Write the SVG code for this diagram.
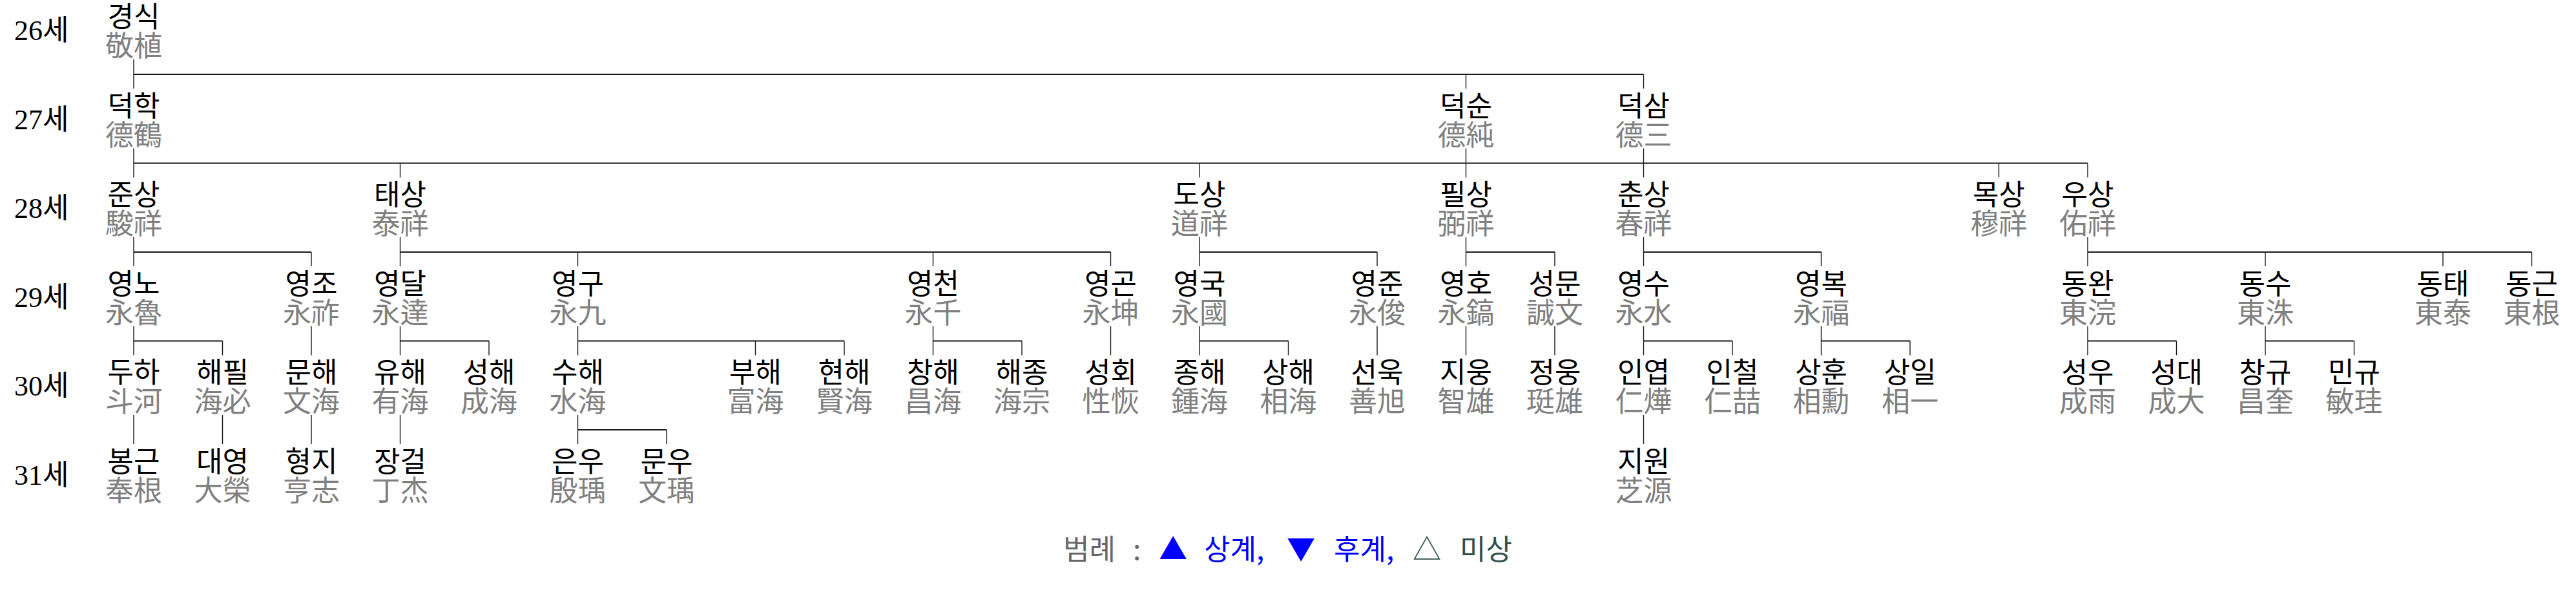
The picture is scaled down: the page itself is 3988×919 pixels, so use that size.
<svg xmlns="http://www.w3.org/2000/svg" width="3988" height="919" viewBox="0 0 3988 919">
<style>
text{font-family:"Liberation Serif","Noto Sans CJK KR",serif;font-size:44px}
.k{fill:#000;text-anchor:middle}
.h{fill:#808080;text-anchor:middle}
.lbl{fill:#000}
.v{stroke:#1a1a1a;stroke-width:1.4;fill:none}
.b{stroke:#1a1a1a;stroke-width:2.2;fill:none}
.lg{font-family:"Noto Sans CJK KR","Liberation Serif",sans-serif}
</style>
<rect width="3988" height="919" fill="#fff"/>
<g id="labels">
<text class="lbl" x="22" y="62">26세</text>
<text class="lbl" x="22" y="199.5">27세</text>
<text class="lbl" x="22" y="337">28세</text>
<text class="lbl" x="22" y="474.5">29세</text>
<text class="lbl" x="22" y="612">30세</text>
<text class="lbl" x="22" y="749.5">31세</text>
</g>
<g id="connectors">
<path class="b" d="M207 115H2544.5 M207 252.5H3232 M207 390H482 M619.5 390H1719.5 M1857 390H2132 M2269.5 390H2407 M2544.5 390H2819.5 M3232 390H3919.5 M207 527.5H344.5 M619.5 527.5H757 M894.5 527.5H1307 M1444.5 527.5H1582 M1857 527.5H1994.5 M2544.5 527.5H2682 M2819.5 527.5H2957 M3232 527.5H3369.5 M3507 527.5H3644.5 M894.5 665H1032"/>
<path class="v" d="M207 92V137 M2269.5 115V137 M2544.5 115V137
M207 229.5V274.5 M619.5 252.5V274.5 M1857 252.5V274.5 M2269.5 229.5V274.5 M2544.5 229.5V274.5 M3094.5 252.5V274.5 M3232 252.5V274.5
M207 367V412 M482 390V412 M619.5 367V412 M894.5 390V412 M1444.5 390V412 M1719.5 390V412 M1857 367V412 M2132 390V412 M2269.5 367V412 M2407 390V412 M2544.5 367V412 M2819.5 390V412 M3232 367V412 M3507 390V412 M3782 390V412 M3919.5 390V412
M207 504.5V549.5 M344.5 527.5V549.5 M482 504.5V549.5 M619.5 504.5V549.5 M757 527.5V549.5 M894.5 504.5V549.5 M1169.5 527.5V549.5 M1307 527.5V549.5 M1444.5 504.5V549.5 M1582 527.5V549.5 M1719.5 504.5V549.5 M1857 504.5V549.5 M1994.5 527.5V549.5 M2132 504.5V549.5 M2269.5 504.5V549.5 M2407 504.5V549.5 M2544.5 504.5V549.5 M2682 527.5V549.5 M2819.5 504.5V549.5 M2957 527.5V549.5 M3232 504.5V549.5 M3369.5 527.5V549.5 M3507 504.5V549.5 M3644.5 527.5V549.5
M207 642V687 M344.5 642V687 M482 642V687 M619.5 642V687 M894.5 642V687 M1032 665V687 M2544.5 642V687"/>
</g>
<g id="n-gyeongsik"><text class="k" x="207" y="42">경식</text><text class="h" x="207" y="87">敬植</text></g>
<g id="n-deokhak"><text class="k" x="207" y="179.5">덕학</text><text class="h" x="207" y="224.5">德鶴</text></g>
<g id="n-deoksun"><text class="k" x="2269.5" y="179.5">덕순</text><text class="h" x="2269.5" y="224.5">德純</text></g>
<g id="n-deoksam"><text class="k" x="2544.5" y="179.5">덕삼</text><text class="h" x="2544.5" y="224.5">德三</text></g>
<g id="n-junsang"><text class="k" x="207" y="317">준상</text><text class="h" x="207" y="362">駿祥</text></g>
<g id="n-taesang"><text class="k" x="619.5" y="317">태상</text><text class="h" x="619.5" y="362">泰祥</text></g>
<g id="n-dosang"><text class="k" x="1857" y="317">도상</text><text class="h" x="1857" y="362">道祥</text></g>
<g id="n-pilsang"><text class="k" x="2269.5" y="317">필상</text><text class="h" x="2269.5" y="362">弼祥</text></g>
<g id="n-chunsang"><text class="k" x="2544.5" y="317">춘상</text><text class="h" x="2544.5" y="362">春祥</text></g>
<g id="n-moksang"><text class="k" x="3094.5" y="317">목상</text><text class="h" x="3094.5" y="362">穆祥</text></g>
<g id="n-usang"><text class="k" x="3232" y="317">우상</text><text class="h" x="3232" y="362">佑祥</text></g>
<g id="n-yeongno"><text class="k" x="207" y="454.5">영노</text><text class="h" x="207" y="499.5">永魯</text></g>
<g id="n-yeongjo"><text class="k" x="482" y="454.5">영조</text><text class="h" x="482" y="499.5">永祚</text></g>
<g id="n-yeongdal"><text class="k" x="619.5" y="454.5">영달</text><text class="h" x="619.5" y="499.5">永達</text></g>
<g id="n-yeonggu"><text class="k" x="894.5" y="454.5">영구</text><text class="h" x="894.5" y="499.5">永九</text></g>
<g id="n-yeongcheon"><text class="k" x="1444.5" y="454.5">영천</text><text class="h" x="1444.5" y="499.5">永千</text></g>
<g id="n-yeonggon"><text class="k" x="1719.5" y="454.5">영곤</text><text class="h" x="1719.5" y="499.5">永坤</text></g>
<g id="n-yeongguk"><text class="k" x="1857" y="454.5">영국</text><text class="h" x="1857" y="499.5">永國</text></g>
<g id="n-yeongjun"><text class="k" x="2132" y="454.5">영준</text><text class="h" x="2132" y="499.5">永俊</text></g>
<g id="n-yeongho"><text class="k" x="2269.5" y="454.5">영호</text><text class="h" x="2269.5" y="499.5">永鎬</text></g>
<g id="n-seongmun"><text class="k" x="2407" y="454.5">성문</text><text class="h" x="2407" y="499.5">誠文</text></g>
<g id="n-yeongsu"><text class="k" x="2544.5" y="454.5">영수</text><text class="h" x="2544.5" y="499.5">永水</text></g>
<g id="n-yeongbok"><text class="k" x="2819.5" y="454.5">영복</text><text class="h" x="2819.5" y="499.5">永福</text></g>
<g id="n-dongwan"><text class="k" x="3232" y="454.5">동완</text><text class="h" x="3232" y="499.5">東浣</text></g>
<g id="n-dongsu"><text class="k" x="3507" y="454.5">동수</text><text class="h" x="3507" y="499.5">東洙</text></g>
<g id="n-dongtae"><text class="k" x="3782" y="454.5">동태</text><text class="h" x="3782" y="499.5">東泰</text></g>
<g id="n-donggeun"><text class="k" x="3919.5" y="454.5">동근</text><text class="h" x="3919.5" y="499.5">東根</text></g>
<g id="n-duha"><text class="k" x="207" y="592">두하</text><text class="h" x="207" y="637">斗河</text></g>
<g id="n-haepil"><text class="k" x="344.5" y="592">해필</text><text class="h" x="344.5" y="637">海必</text></g>
<g id="n-munhae"><text class="k" x="482" y="592">문해</text><text class="h" x="482" y="637">文海</text></g>
<g id="n-yuhae"><text class="k" x="619.5" y="592">유해</text><text class="h" x="619.5" y="637">有海</text></g>
<g id="n-seonghae"><text class="k" x="757" y="592">성해</text><text class="h" x="757" y="637">成海</text></g>
<g id="n-suhae"><text class="k" x="894.5" y="592">수해</text><text class="h" x="894.5" y="637">水海</text></g>
<g id="n-buhae"><text class="k" x="1169.5" y="592">부해</text><text class="h" x="1169.5" y="637">富海</text></g>
<g id="n-hyeonhae"><text class="k" x="1307" y="592">현해</text><text class="h" x="1307" y="637">賢海</text></g>
<g id="n-changhae"><text class="k" x="1444.5" y="592">창해</text><text class="h" x="1444.5" y="637">昌海</text></g>
<g id="n-haejong"><text class="k" x="1582" y="592">해종</text><text class="h" x="1582" y="637">海宗</text></g>
<g id="n-seonghoe"><text class="k" x="1719.5" y="592">성회</text><text class="h" x="1719.5" y="637">性恢</text></g>
<g id="n-jonghae"><text class="k" x="1857" y="592">종해</text><text class="h" x="1857" y="637">鍾海</text></g>
<g id="n-sanghae"><text class="k" x="1994.5" y="592">상해</text><text class="h" x="1994.5" y="637">相海</text></g>
<g id="n-seonuk"><text class="k" x="2132" y="592">선욱</text><text class="h" x="2132" y="637">善旭</text></g>
<g id="n-jiung"><text class="k" x="2269.5" y="592">지웅</text><text class="h" x="2269.5" y="637">智雄</text></g>
<g id="n-jeongung"><text class="k" x="2407" y="592">정웅</text><text class="h" x="2407" y="637">珽雄</text></g>
<g id="n-inyeop"><text class="k" x="2544.5" y="592">인엽</text><text class="h" x="2544.5" y="637">仁燁</text></g>
<g id="n-incheol"><text class="k" x="2682" y="592">인철</text><text class="h" x="2682" y="637">仁喆</text></g>
<g id="n-sanghun"><text class="k" x="2819.5" y="592">상훈</text><text class="h" x="2819.5" y="637">相勳</text></g>
<g id="n-sangil"><text class="k" x="2957" y="592">상일</text><text class="h" x="2957" y="637">相一</text></g>
<g id="n-seongu"><text class="k" x="3232" y="592">성우</text><text class="h" x="3232" y="637">成雨</text></g>
<g id="n-seongdae"><text class="k" x="3369.5" y="592">성대</text><text class="h" x="3369.5" y="637">成大</text></g>
<g id="n-changgyu"><text class="k" x="3507" y="592">창규</text><text class="h" x="3507" y="637">昌奎</text></g>
<g id="n-mingyu"><text class="k" x="3644.5" y="592">민규</text><text class="h" x="3644.5" y="637">敏珪</text></g>
<g id="n-bonggeun"><text class="k" x="207" y="729.5">봉근</text><text class="h" x="207" y="774.5">奉根</text></g>
<g id="n-daeyeong"><text class="k" x="344.5" y="729.5">대영</text><text class="h" x="344.5" y="774.5">大榮</text></g>
<g id="n-hyeongji"><text class="k" x="482" y="729.5">형지</text><text class="h" x="482" y="774.5">亨志</text></g>
<g id="n-janggeol"><text class="k" x="619.5" y="729.5">장걸</text><text class="h" x="619.5" y="774.5">丁杰</text></g>
<g id="n-eunu"><text class="k" x="894.5" y="729.5">은우</text><text class="h" x="894.5" y="774.5">殷瑀</text></g>
<g id="n-munu"><text class="k" x="1032" y="729.5">문우</text><text class="h" x="1032" y="774.5">文瑀</text></g>
<g id="n-jiwon"><text class="k" x="2544.5" y="729.5">지원</text><text class="h" x="2544.5" y="774.5">芝源</text></g>
<g id="legend">
<text class="lg" y="866"><tspan x="1646" fill="#666">범례</tspan><tspan x="1754" fill="#666">:</tspan><tspan x="1794" fill="#0000ff">▲</tspan><tspan x="1864" fill="#0000ff">상계,</tspan><tspan x="1992" fill="#0000ff">▼</tspan><tspan x="2065" fill="#0000ff">후계,</tspan><tspan x="2187" fill="#2f4f4f">△</tspan><tspan x="2260" fill="#2f4f4f">미상</tspan></text>
</g>
</svg>
